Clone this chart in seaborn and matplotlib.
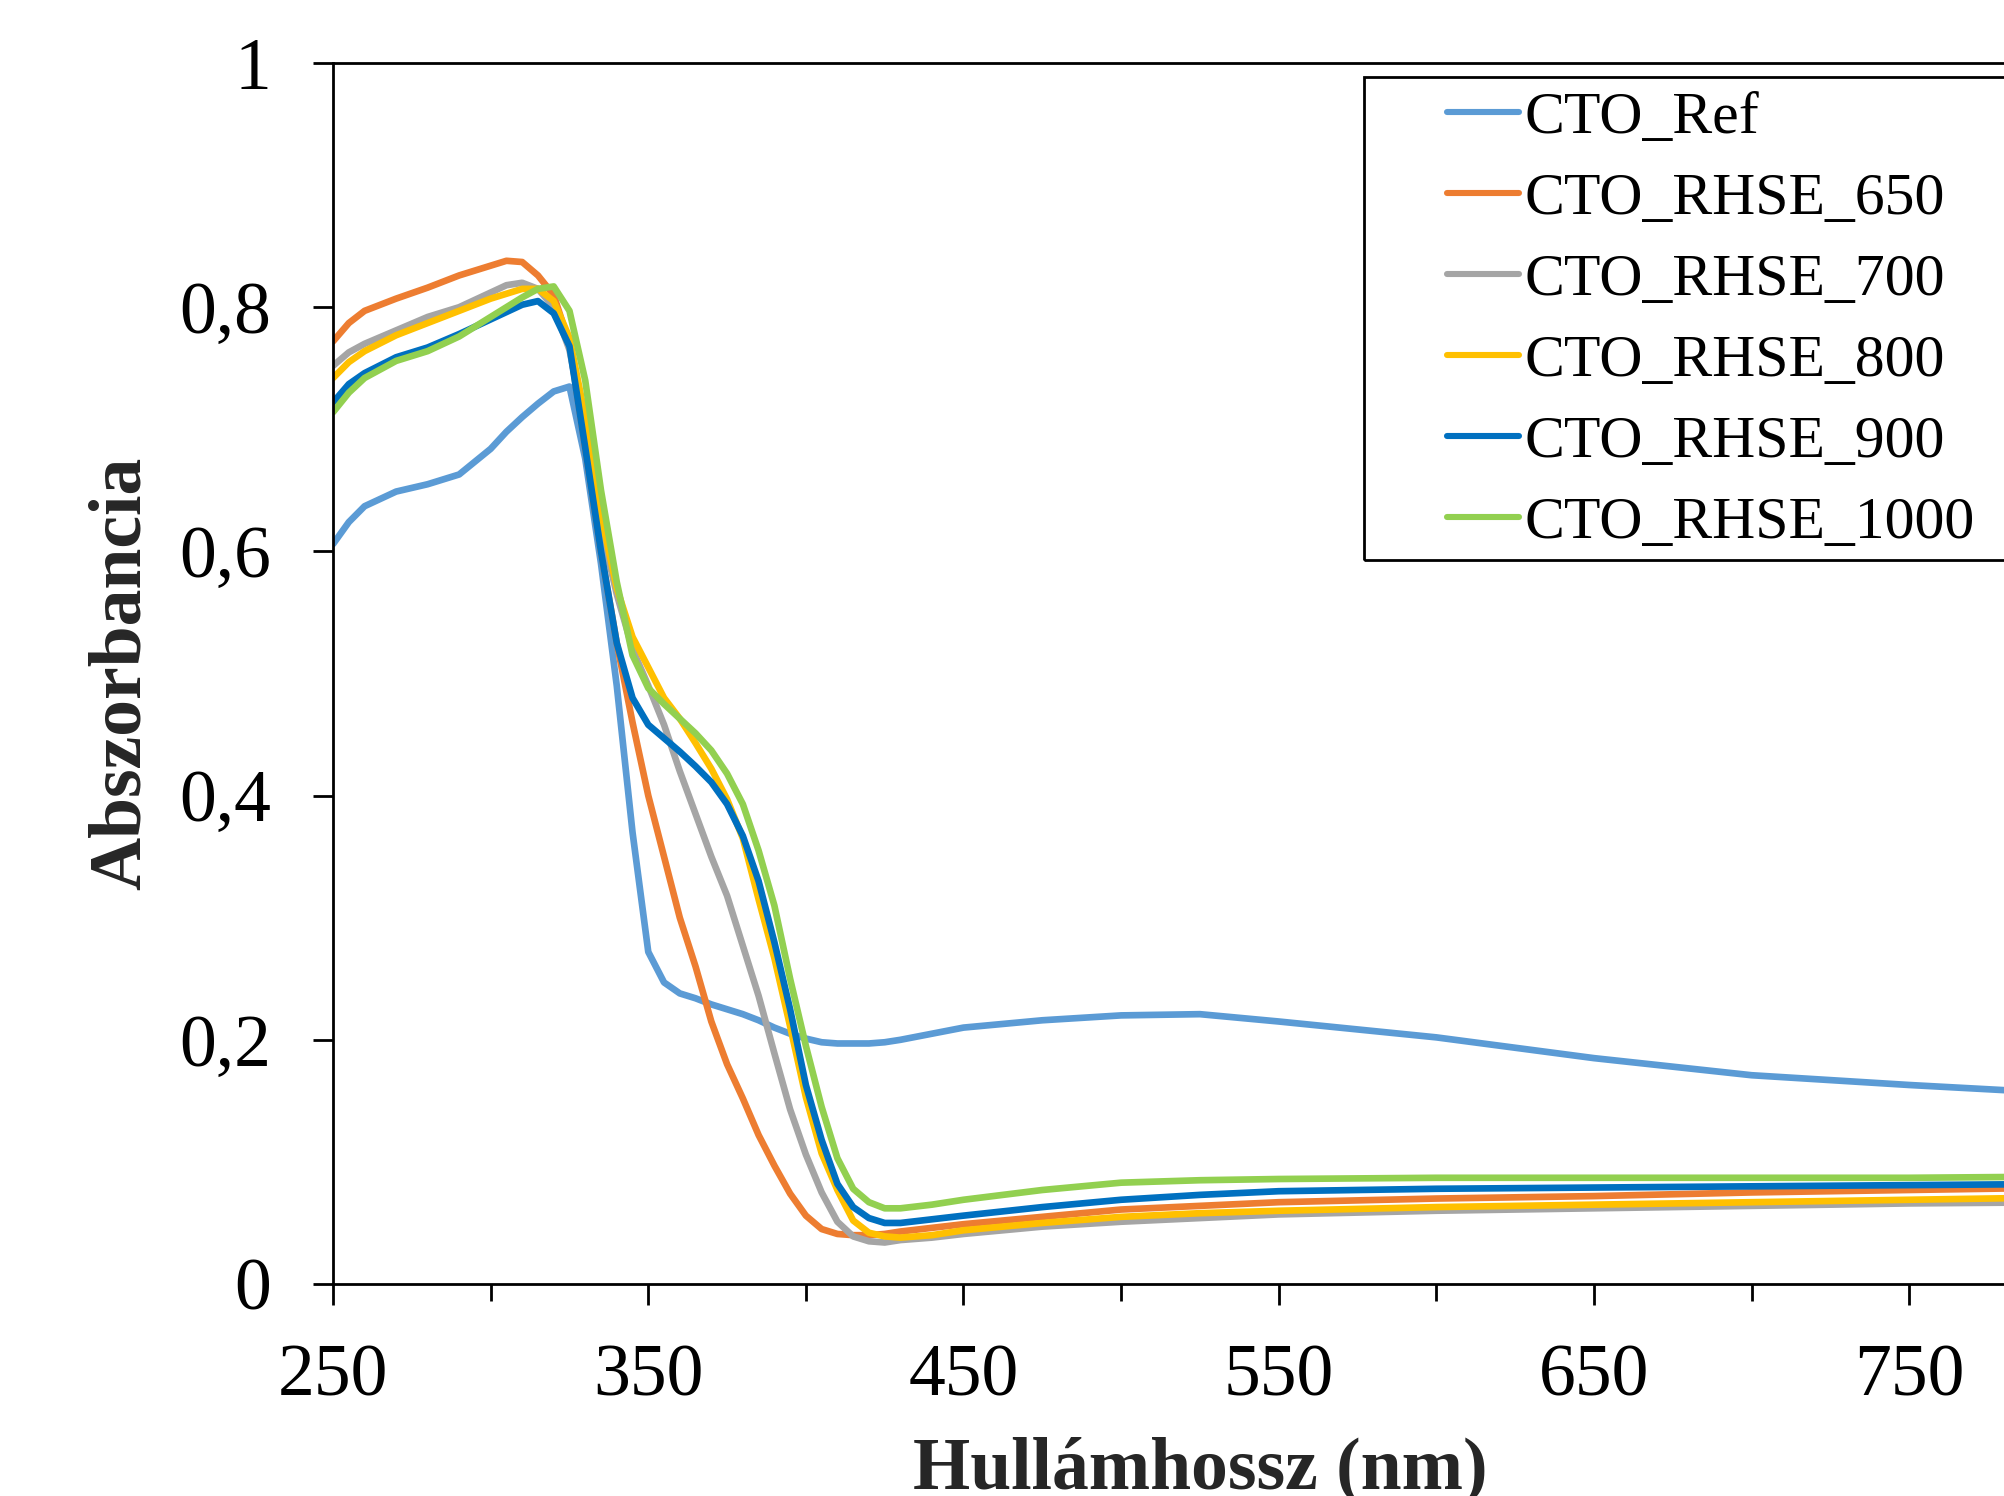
import numpy as np
import pandas as pd
import matplotlib
matplotlib.use("Agg")
import matplotlib.pyplot as plt
import seaborn as sns
from matplotlib.ticker import FixedLocator, FuncFormatter
from matplotlib.patches import Rectangle

# DATA

wavelength = [250, 255, 260, 270, 280, 290, 300, 305, 310, 315, 320, 325, 330, 335, 340,
              345, 350, 355, 360, 365, 370, 375, 380, 385, 390, 395, 400, 405, 410, 415,
              420, 425, 430, 440, 450, 475, 500, 525, 550, 600, 650, 700, 750, 800]

cto_ref = [0.606, 0.624, 0.637, 0.649, 0.655, 0.663, 0.684, 0.698, 0.710, 0.721, 0.731, 0.735, 0.676, 0.59, 0.49,
           0.37, 0.272, 0.247, 0.238, 0.234, 0.229, 0.225, 0.221, 0.216, 0.210, 0.205, 0.201, 0.198, 0.197, 0.197,
           0.197, 0.198, 0.200, 0.205, 0.210, 0.216, 0.220, 0.221, 0.215, 0.202, 0.185, 0.171, 0.163, 0.156]

rhse_650 = [0.772, 0.787, 0.797, 0.807, 0.816, 0.826, 0.834, 0.838, 0.837, 0.826, 0.810, 0.770, 0.685, 0.600, 0.525,
            0.460, 0.400, 0.350, 0.300, 0.260, 0.215, 0.180, 0.152, 0.122, 0.097, 0.074, 0.056, 0.045, 0.041, 0.040,
            0.040, 0.041, 0.043, 0.046, 0.049, 0.055, 0.061, 0.064, 0.067, 0.070, 0.072, 0.075, 0.077, 0.079]

rhse_700 = [0.752, 0.763, 0.770, 0.781, 0.792, 0.800, 0.812, 0.818, 0.820, 0.815, 0.800, 0.765, 0.700, 0.620, 0.565,
            0.520, 0.490, 0.458, 0.420, 0.385, 0.350, 0.318, 0.277, 0.236, 0.189, 0.143, 0.106, 0.075, 0.051, 0.039,
            0.035, 0.034, 0.036, 0.038, 0.041, 0.047, 0.051, 0.054, 0.057, 0.060, 0.062, 0.064, 0.066, 0.067]

rhse_800 = [0.742, 0.755, 0.764, 0.777, 0.787, 0.797, 0.807, 0.811, 0.815, 0.815, 0.805, 0.775, 0.710, 0.630, 0.570,
            0.530, 0.505, 0.480, 0.463, 0.443, 0.422, 0.397, 0.365, 0.315, 0.267, 0.211, 0.153, 0.107, 0.077, 0.052,
            0.042, 0.039, 0.038, 0.040, 0.044, 0.050, 0.055, 0.058, 0.060, 0.063, 0.065, 0.067, 0.069, 0.071]

rhse_900 = [0.722, 0.737, 0.746, 0.759, 0.767, 0.778, 0.790, 0.796, 0.802, 0.805, 0.795, 0.768, 0.685, 0.600, 0.525,
            0.480, 0.458, 0.447, 0.436, 0.424, 0.411, 0.393, 0.367, 0.330, 0.280, 0.225, 0.163, 0.118, 0.082, 0.063,
            0.054, 0.050, 0.050, 0.053, 0.056, 0.063, 0.069, 0.073, 0.076, 0.078, 0.079, 0.080, 0.081, 0.082]

rhse_1000 = [0.714, 0.730, 0.742, 0.756, 0.764, 0.776, 0.792, 0.800, 0.808, 0.815, 0.817, 0.797, 0.740, 0.650, 0.575,
             0.515, 0.488, 0.475, 0.463, 0.451, 0.437, 0.418, 0.393, 0.355, 0.310, 0.250, 0.195, 0.145, 0.103, 0.078,
             0.067, 0.062, 0.062, 0.065, 0.069, 0.077, 0.083, 0.085, 0.086, 0.087, 0.087, 0.087, 0.087, 0.088]

names = ["CTO_Ref", "CTO_RHSE_650", "CTO_RHSE_700", "CTO_RHSE_800", "CTO_RHSE_900", "CTO_RHSE_1000"]
colors = ["#5B9BD5", "#ED7D31", "#A5A5A5", "#FFC000", "#0070C0", "#92D050"]
values = [cto_ref, rhse_650, rhse_700, rhse_800, rhse_900, rhse_1000]

x_major = [250, 350, 450, 550, 650, 750]
x_minor = [300, 400, 500, 600, 700, 800]
y_ticks = [0, 0.2, 0.4, 0.6, 0.8, 1.0]

df = pd.concat([pd.DataFrame({"wl": wavelength, "absz": v, "minta": n}) for n, v in zip(names, values)])

# PLOT

sns.set_theme(style="ticks")
plt.rcParams["font.family"] = ["Liberation Serif", "DejaVu Serif"]
plt.rcParams["axes.edgecolor"] = "black"
plt.rcParams["xtick.color"] = "black"
plt.rcParams["ytick.color"] = "black"
plt.rcParams["text.color"] = "black"

fig = plt.figure(figsize=(10.02, 7.48), dpi=200)
ax = fig.add_axes([0.1662, 0.1417, 0.8651, 0.8162])

sns.lineplot(data=df, x="wl", y="absz", hue="minta", hue_order=names,
             palette=dict(zip(names, colors)), estimator=None, linewidth=2.4,
             ax=ax, solid_capstyle="round", solid_joinstyle="round")

ax.set_xlim(250, 800)
ax.set_ylim(0, 1)
ax.xaxis.set_major_locator(FixedLocator(x_major))
ax.xaxis.set_minor_locator(FixedLocator(x_minor))
ax.yaxis.set_major_locator(FixedLocator(y_ticks))
ax.yaxis.set_major_formatter(FuncFormatter(lambda v, p: ("%g" % v).replace(".", ",")))

for s in ax.spines.values():
    s.set_linewidth(1.0)
    s.set_color("black")

ax.tick_params(axis="x", which="major", direction="out", length=7.5, width=1.0, labelsize=26.5, pad=14)
ax.tick_params(axis="x", which="minor", direction="out", length=6, width=1.0)
ax.tick_params(axis="y", which="major", direction="out", length=7.2, width=1.0, labelsize=26.5, pad=15)

ax.set_xlabel("Hullámhossz (nm)", fontsize=26.5, fontweight="bold")
ax.xaxis.label.set_va("baseline")
ax.xaxis.set_label_coords(0.5, -0.167)
ax.set_ylabel("Abszorbancia", fontsize=26.5, fontweight="bold")
ax.yaxis.label.set_va("center")
ax.yaxis.set_label_coords(-0.122, 0.5)

# legend frame drawn by hand (it runs off the right edge like the reference)
ax.add_patch(Rectangle((0.5947, 0.5931), 0.6, 0.3957, transform=ax.transAxes,
                       fill=False, edgecolor="black", linewidth=1.0, clip_on=False, zorder=5))
handles, labels = ax.get_legend_handles_labels()
leg = ax.legend(handles, labels, loc="upper left", bbox_to_anchor=(0.6426, 0.977),
                frameon=False, fontsize=21.5, handlelength=1.2, handletextpad=0.1,
                labelspacing=0.44, borderpad=0, borderaxespad=0)
for h in leg.get_lines():
    h.set_linewidth(2.2)

fig.savefig("out.png", dpi=200)
